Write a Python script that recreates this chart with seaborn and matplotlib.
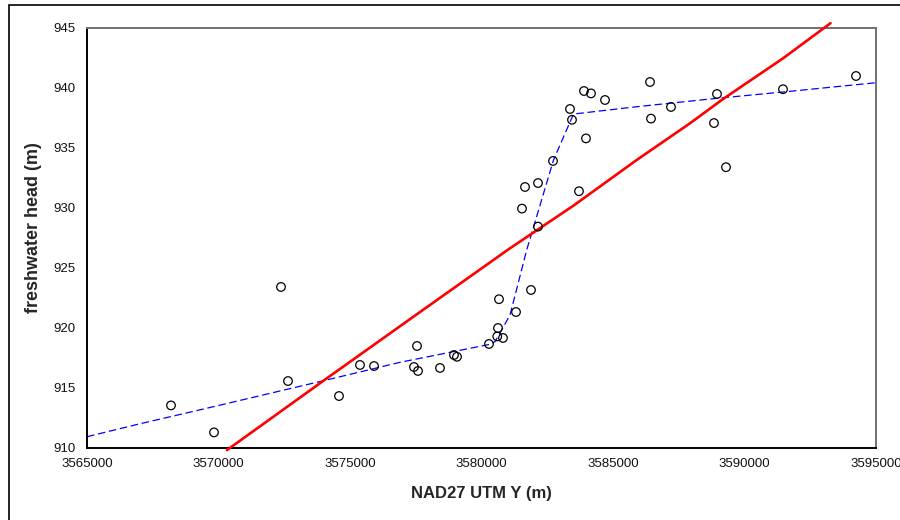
import matplotlib
matplotlib.use("Agg")
import matplotlib.pyplot as plt
import matplotlib.ticker as mticker
from matplotlib.patches import Rectangle
import seaborn as sns
import pandas as pd

# observed wells
obs_y = [3568194, 3569829, 3572376, 3572643, 3574582, 3575380, 3575913, 3577433,
         3577548, 3577586, 3578422, 3578954, 3579068, 3580285, 3580627, 3580600,
         3580817, 3580665, 3581312, 3581882, 3582148, 3581540, 3581654, 3582148,
         3582719, 3583365, 3583441, 3583707, 3583973, 3583897, 3584163, 3584696,
         3586407, 3586445, 3587205, 3588840, 3588954, 3589297, 3591464, 3594240]
obs_head = [913.55, 911.3, 923.42, 915.58, 914.33, 916.92, 916.83, 916.75,
            918.5, 916.42, 916.67, 917.75, 917.6, 918.67, 920.0, 919.3,
            919.17, 922.4, 921.33, 923.17, 928.45, 929.95, 931.75, 932.08,
            933.92, 938.25, 937.35, 931.4, 935.8, 939.75, 939.55, 939.0,
            940.5, 937.45, 938.42, 937.08, 939.5, 933.4, 939.9, 941.0]

# red trend line
red_x = [3570323, 3574114, 3577411, 3581027, 3583498, 3585901, 3587928,
         3589196, 3591483, 3593270]
red_head = [909.83, 915.8, 920.94, 926.56, 930.2, 934.0, 937.06, 939.1,
            942.5, 945.4]

# blue dashed curve
blue_x = [3565000, 3567015, 3569803, 3574114, 3576901, 3580323, 3580513,
          3581084, 3581718, 3582738, 3583498, 3585901, 3588947, 3591483, 3595000]
blue_head = [910.94, 912.02, 913.44, 915.67, 917.14, 918.64, 918.86,
             921.08, 926.5, 934.0, 937.83, 938.44, 939.14, 939.67, 940.44]

x_ticks = [3565000, 3570000, 3575000, 3580000, 3585000, 3590000, 3595000]
y_ticks = [910, 915, 920, 925, 930, 935, 940, 945]

sns.set_style("white")
plt.rcParams['font.family'] = ['Liberation Sans', 'DejaVu Sans']

fig = plt.figure(figsize=(9, 5.2), dpi=100)
ax = fig.add_axes([87/900, 72/520, 789/900, 420/520])

df_obs = pd.DataFrame({"x": obs_y, "y": obs_head})
df_red = pd.DataFrame({"x": red_x, "y": red_head})
df_blue = pd.DataFrame({"x": blue_x, "y": blue_head})

sns.lineplot(data=df_blue, x="x", y="y", ax=ax, sort=False, estimator=None,
             color="#0000ff", linewidth=0.9, linestyle=(0, (6, 3)), zorder=2)
sns.lineplot(data=df_red, x="x", y="y", ax=ax, sort=False, estimator=None,
             color="#ff0000", linewidth=1.9, zorder=3, clip_on=False)
sns.scatterplot(data=df_obs, x="x", y="y", ax=ax, s=38, facecolor="none",
                edgecolor="black", linewidth=0.9, zorder=4)

ax.set_xlim(3565000, 3595000)
ax.set_ylim(910, 945)
ax.set_xticks(x_ticks)
ax.set_yticks(y_ticks)
ax.set_xticklabels([str(v) for v in x_ticks])
ax.set_yticklabels([str(v) for v in y_ticks])
ax.xaxis.set_minor_locator(mticker.MultipleLocator(1000))
ax.yaxis.set_minor_locator(mticker.MultipleLocator(1))

ax.tick_params(axis="both", which="major", direction="inout", length=8,
               width=1.0, labelsize=9.5, color="black", labelcolor="#111111")
ax.tick_params(axis="x", which="major", pad=3)
ax.tick_params(axis="y", which="major", pad=4)
ax.tick_params(axis="both", which="minor", direction="in", length=4, width=0.9,
               color="black")

for s in ["left", "bottom"]:
    ax.spines[s].set_color("black")
    ax.spines[s].set_linewidth(1.4)
for s in ["top", "right"]:
    ax.spines[s].set_visible(True)
    ax.spines[s].set_color("#707070")
    ax.spines[s].set_linewidth(1.4)

ax.set_xlabel("NAD27 UTM Y (m)", fontsize=12, fontweight="bold", labelpad=12)
ax.set_ylabel("freshwater head (m)", fontsize=13, fontweight="bold")
ax.yaxis.set_label_coords((42 - 87) / 789, (448 - 228) / 420)

# outer chart-area border
fig.patches.append(Rectangle((9/900, -0.1), 1.2, (520-5)/520 + 0.1,
                             transform=fig.transFigure, fill=False,
                             edgecolor="black", linewidth=1.2))

fig.savefig("out.png", dpi=100)
